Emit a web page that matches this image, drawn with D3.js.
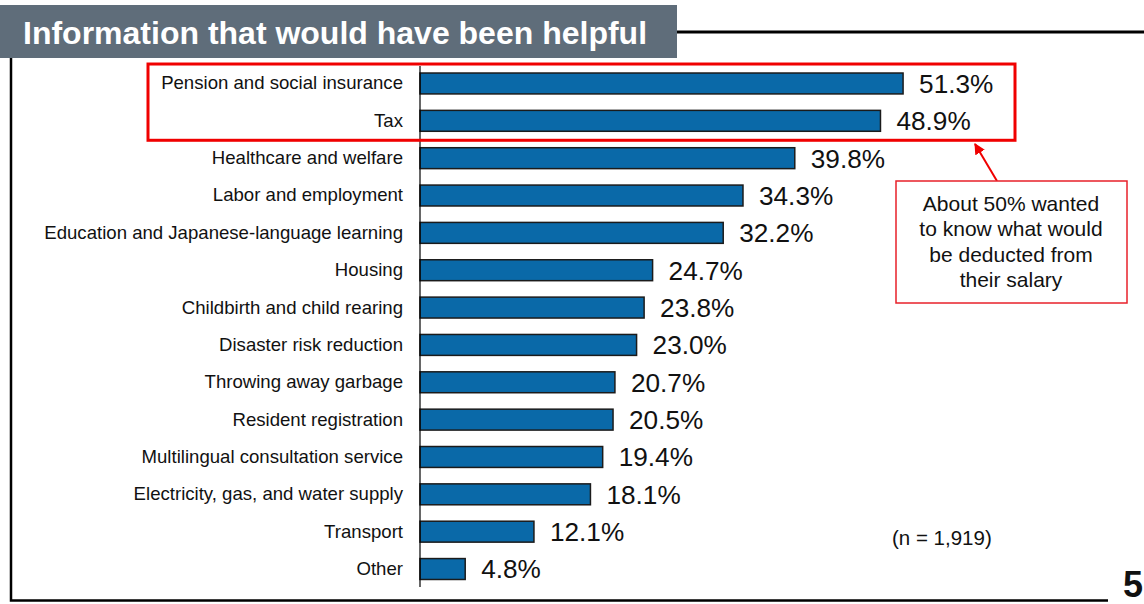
<!DOCTYPE html>
<html>
<head>
<meta charset="utf-8">
<script src="https://cdn.jsdelivr.net/npm/d3@7"></script>
<style>
  html, body { margin: 0; padding: 0; background: #fff; }
  svg { display: block; font-family: Arial, "Liberation Sans", Helvetica, sans-serif; }
</style>
</head>
<body>
<svg id="chart" width="1144" height="604"></svg>
<script>
// Survey answers: information respondents would have liked to have had
const categories = [
  "Pension and social insurance",
  "Tax",
  "Healthcare and welfare",
  "Labor and employment",
  "Education and Japanese-language learning",
  "Housing",
  "Childbirth and child rearing",
  "Disaster risk reduction",
  "Throwing away garbage",
  "Resident registration",
  "Multilingual consultation service",
  "Electricity, gas, and water supply",
  "Transport",
  "Other"
];
const values = [51.3, 48.9, 39.8, 34.3, 32.2, 24.7, 23.8, 23.0, 20.7, 20.5, 19.4, 18.1, 12.1, 4.8];
const highlighted = ["Pension and social insurance", "Tax"];
const titleText = "Information that would have been helpful";
const noteLines = ["About 50% wanted", "to know what would", "be deducted from", "their salary"];
const sampleText = "(n = 1,919)";
const pageNumber = "5";

const svg = d3.select("#chart");
const data = categories.map((c, i) => ({ category: c, value: values[i] }));

const x = d3.scaleLinear().domain([0, 60]).range([420, 985]);
const y = d3.scaleBand()
  .domain(categories)
  .range([64.8, 587.7])
  .paddingInner(0.44)
  .paddingOuter(0.22);

// Title banner and rule
svg.append("rect").attr("x", 0).attr("y", 5).attr("width", 677).attr("height", 53).attr("fill", "#5f6d7a");
svg.append("text").attr("x", 23).attr("y", 43.5).attr("fill", "#fff")
  .attr("font-size", 32).attr("font-weight", "bold").text(titleText);
svg.append("line").attr("x1", 677).attr("x2", 1144).attr("y1", 32).attr("y2", 32)
  .attr("stroke", "#000").attr("stroke-width", 3);

// Frame lines (left and bottom)
svg.append("path").attr("d", "M11,58 V600.5 H1108")
  .attr("fill", "none").attr("stroke", "#000").attr("stroke-width", 2.5);

// Bars
svg.append("g").selectAll("rect").data(data).join("rect")
  .attr("x", x(0))
  .attr("y", d => y(d.category))
  .attr("width", d => x(d.value) - x(0))
  .attr("height", y.bandwidth())
  .attr("fill", "#0a69a8")
  .attr("stroke", "#1b1b1b")
  .attr("stroke-width", 1.5);

// Category axis
const axis = svg.append("g").attr("transform", `translate(${x(0)},0)`)
  .call(d3.axisLeft(y).tickSize(0).tickPadding(17));
axis.select(".domain").attr("stroke", "#000").attr("stroke-width", 1.2)
  .attr("d", "M0,66V587");
axis.selectAll("text").attr("font-size", 18.6).attr("fill", "#111")
  .attr("font-family", "Arial, 'Liberation Sans', sans-serif");

// Value labels
svg.append("g").selectAll("text").data(data).join("text")
  .attr("x", d => x(d.value) + 16)
  .attr("y", d => y(d.category) + y.bandwidth() / 2)
  .attr("dy", "0.36em")
  .attr("font-size", 26.2)
  .attr("fill", "#111")
  .text(d => d.value.toFixed(1) + "%");

// Highlight around the top two rows
const hTop = y(highlighted[0]) - 9;
const hBottom = y(highlighted[highlighted.length - 1]) + y.bandwidth() + 9;
svg.append("rect").attr("x", 148).attr("y", hTop).attr("width", 867).attr("height", hBottom - hTop)
  .attr("fill", "none").attr("stroke", "#f00000").attr("stroke-width", 3);

// Callout box with arrow
svg.append("defs").append("marker")
  .attr("id", "arrowHead").attr("viewBox", "0 0 10 10")
  .attr("refX", 9).attr("refY", 5).attr("markerWidth", 5.5).attr("markerHeight", 5.5)
  .attr("orient", "auto")
  .append("path").attr("d", "M0,0 L10,5 L0,10 Z").attr("fill", "#f00000");
svg.append("line").attr("x1", 997).attr("y1", 181).attr("x2", 975).attr("y2", 144)
  .attr("stroke", "#f00000").attr("stroke-width", 2).attr("marker-end", "url(#arrowHead)");
svg.append("rect").attr("x", 896).attr("y", 181).attr("width", 231).attr("height", 122)
  .attr("fill", "#fff").attr("stroke", "#e8202a").attr("stroke-width", 1.5);
svg.append("g").selectAll("text").data(noteLines).join("text")
  .attr("x", 1011).attr("y", (d, i) => 210.5 + i * 25.6)
  .attr("text-anchor", "middle").attr("font-size", 21).attr("fill", "#111")
  .text(d => d);

// Sample size
svg.append("text").attr("x", 892).attr("y", 545).attr("font-size", 20.5).attr("fill", "#111").text(sampleText);

// Page number
svg.append("text").attr("x", 1123).attr("y", 597).attr("font-size", 36).attr("font-weight", "bold")
  .attr("fill", "#111").text(pageNumber);
</script>
</body>
</html>
